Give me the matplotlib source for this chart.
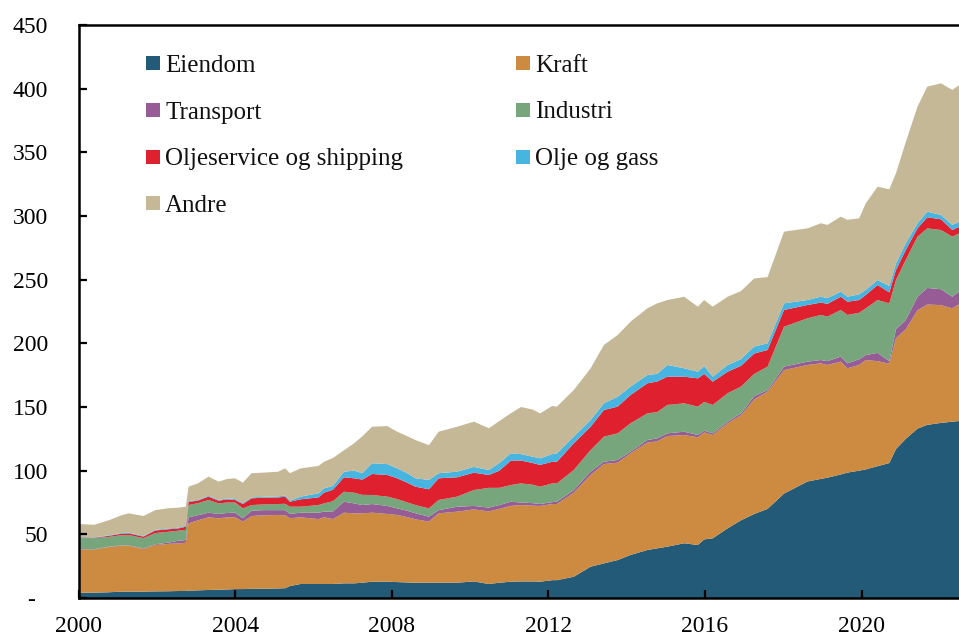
import numpy as np
import matplotlib
matplotlib.use("Agg")
import matplotlib.pyplot as plt
from matplotlib.patches import Rectangle
from matplotlib.ticker import FixedLocator, FuncFormatter

plt.rcParams['font.family'] = ['Liberation Serif', 'DejaVu Serif']

# ---- data: dates (decimal years) and cumulative stack tops ----
dates = [2000.0, 2000.4, 2000.77, 2001.1, 2001.28, 2001.66, 2001.96, 2002.3, 2002.56, 2002.74,
         2002.81, 2003.05, 2003.32, 2003.58, 2003.8, 2004.0, 2004.2, 2004.42, 2004.75, 2005.1,
         2005.28, 2005.4, 2005.67, 2006.13, 2006.27, 2006.5, 2006.78, 2007.04, 2007.25, 2007.5,
         2007.89, 2008.14, 2008.4, 2008.61, 2008.95, 2009.2, 2009.67, 2010.1, 2010.48, 2010.75,
         2011.04, 2011.3, 2011.6, 2011.79, 2012.1, 2012.22, 2012.65, 2013.08, 2013.42, 2013.77,
         2014.1, 2014.53, 2014.78, 2015.04, 2015.47, 2015.82, 2015.98, 2016.2, 2016.58, 2016.92,
         2017.26, 2017.6, 2018.02, 2018.62, 2018.96, 2019.13, 2019.47, 2019.64, 2019.94, 2020.11,
         2020.41, 2020.71, 2020.88, 2021.13, 2021.43, 2021.68, 2022.03, 2022.32, 2022.5]

top_eiendom = [4.2, 4.2, 4.5, 5.0, 5.0, 5.0, 5.2, 5.3, 5.5, 5.5,
               5.8, 6.0, 6.3, 6.5, 6.7, 7.0, 7.0, 7.2, 7.3, 7.5,
               7.7, 9.4, 11.0, 11.0, 11.0, 11.0, 11.5, 11.5, 12.0, 12.8,
               12.8, 12.5, 12.2, 12.0, 12.0, 12.0, 12.0, 13.0, 11.0, 12.0,
               12.8, 13.0, 13.0, 12.8, 14.0, 14.0, 16.7, 24.6, 27.2, 29.8,
               33.8, 37.7, 39.0, 40.3, 43.0, 41.6, 46.0, 46.9, 54.7, 61.0,
               66.0, 70.0, 82.0, 91.5, 93.5, 94.5, 97.0, 98.5, 100.0, 101.0,
               103.5, 106.0, 117.0, 125.0, 133.0, 136.0, 137.5, 138.5, 139.0]

top_kraft = [38.2, 38.0, 40.0, 41.0, 41.0, 38.5, 41.6, 42.5, 43.0, 43.4,
             58.6, 61.0, 63.4, 62.6, 63.4, 63.4, 60.0, 64.4, 65.0, 65.2,
             65.0, 62.6, 63.4, 62.0, 63.4, 62.0, 67.0, 66.5, 66.5, 67.0,
             66.0, 65.2, 63.5, 61.8, 60.0, 66.5, 67.8, 69.6, 68.0, 70.0,
             72.3, 73.0, 72.5, 72.3, 73.8, 73.8, 82.7, 96.6, 105.2, 106.3,
             113.6, 122.0, 123.0, 127.2, 128.0, 126.2, 130.0, 128.0, 137.2, 143.5,
             156.0, 162.0, 179.0, 183.0, 184.3, 183.0, 185.6, 180.4, 183.0, 186.9,
             186.0, 184.0, 204.0, 211.0, 226.0, 230.5, 230.0, 227.5, 231.0]

top_transport = [38.5, 38.3, 40.3, 41.3, 41.3, 39.0, 42.2, 43.5, 45.0, 45.5,
                 63.4, 65.0, 67.0, 66.0, 66.8, 67.0, 62.6, 68.6, 69.0, 69.0,
                 69.0, 66.0, 67.0, 67.0, 67.8, 68.0, 75.6, 74.3, 73.0, 73.8,
                 72.3, 70.4, 68.5, 66.5, 63.9, 69.0, 71.7, 72.3, 71.0, 73.0,
                 75.6, 75.0, 74.5, 73.8, 75.3, 75.6, 84.8, 99.2, 107.0, 108.4,
                 114.9, 124.0, 125.4, 129.3, 130.6, 128.0, 131.5, 129.3, 138.5, 145.0,
                 158.5, 163.3, 181.7, 185.6, 186.9, 186.0, 189.6, 184.3, 187.5, 190.8,
                 192.5, 186.0, 211.0, 218.3, 236.6, 243.5, 242.5, 236.6, 241.0]

top_industri = [47.6, 47.0, 48.0, 49.3, 49.5, 47.0, 51.0, 52.0, 52.9, 53.5,
                73.0, 74.5, 77.0, 74.3, 75.0, 75.0, 70.4, 73.0, 73.5, 73.8,
                74.0, 71.7, 71.7, 73.0, 74.3, 76.0, 83.5, 82.7, 81.0, 80.9,
                79.6, 77.7, 75.0, 73.0, 70.4, 77.0, 79.6, 84.8, 86.5, 86.5,
                88.7, 90.0, 89.0, 87.4, 90.0, 90.0, 100.5, 116.2, 126.7, 129.3,
                137.2, 145.0, 146.0, 151.6, 152.9, 150.3, 154.0, 151.6, 160.8, 166.0,
                176.0, 181.7, 213.0, 219.7, 222.3, 221.0, 226.2, 222.3, 224.0, 227.5,
                234.0, 231.4, 249.7, 265.5, 283.8, 290.3, 289.0, 283.8, 286.4]

top_oljeservice = [47.8, 47.3, 48.8, 50.5, 50.8, 48.2, 53.0, 54.0, 54.7, 56.0,
                   75.4, 76.5, 79.6, 76.4, 77.5, 77.0, 73.8, 78.3, 78.8, 79.0,
                   79.5, 75.6, 77.5, 79.0, 82.7, 85.0, 94.8, 94.0, 93.0, 97.4,
                   96.6, 94.0, 90.5, 87.4, 85.4, 94.0, 94.8, 98.4, 96.6, 100.0,
                   107.8, 108.0, 106.0, 104.5, 107.0, 107.0, 121.5, 134.5, 147.6, 150.3,
                   159.4, 168.6, 170.0, 173.8, 173.8, 172.5, 176.0, 169.9, 177.7, 182.3,
                   192.0, 194.8, 226.2, 230.1, 232.0, 231.0, 236.6, 232.7, 234.0, 238.0,
                   245.8, 240.0, 257.6, 273.3, 290.3, 299.0, 297.4, 289.0, 291.6]

top_olje_gass = [48.0, 47.6, 49.2, 51.0, 51.3, 48.7, 53.5, 54.6, 55.3, 56.7,
                 76.0, 77.0, 80.3, 77.0, 78.2, 77.8, 74.5, 79.0, 79.5, 79.8,
                 80.5, 76.5, 79.6, 82.2, 86.1, 88.0, 99.2, 100.0, 98.0, 105.8,
                 105.2, 101.8, 98.0, 94.0, 92.7, 98.0, 99.2, 103.0, 100.5, 106.0,
                 113.6, 113.0, 111.0, 109.7, 113.0, 113.6, 126.7, 139.8, 152.9, 158.0,
                 166.0, 175.1, 176.0, 183.0, 180.4, 177.7, 182.2, 173.8, 183.0, 187.6,
                 197.5, 200.0, 231.4, 234.0, 236.6, 235.5, 240.6, 236.6, 238.5, 242.0,
                 249.7, 245.0, 262.8, 278.6, 294.3, 303.4, 300.8, 293.0, 295.5]

top_andre = [58.1, 57.5, 61.0, 65.0, 66.5, 64.4, 69.0, 70.5, 71.0, 71.7,
             87.4, 90.0, 95.3, 91.4, 93.5, 94.0, 90.6, 98.0, 98.5, 99.2,
             101.8, 98.0, 101.8, 103.7, 107.0, 110.0, 116.0, 121.5, 127.0, 134.5,
             135.0, 130.6, 127.0, 124.0, 120.0, 130.6, 134.5, 138.5, 133.3, 139.0,
             145.0, 150.0, 148.0, 145.0, 150.8, 150.3, 163.3, 180.4, 198.7, 206.5,
             217.0, 227.5, 231.4, 234.0, 236.6, 228.8, 234.0, 228.8, 236.6, 241.0,
             251.0, 252.0, 287.7, 290.3, 294.3, 293.0, 299.5, 297.0, 298.2, 310.0,
             323.0, 321.0, 333.5, 358.0, 385.9, 401.6, 404.2, 399.0, 403.0]

labels = ["Eiendom", "Kraft", "Transport", "Industri",
          "Oljeservice og shipping", "Olje og gass", "Andre"]
colors = ["#225a78", "#cd8b42", "#955c96", "#78a67c",
          "#df202e", "#48b4e0", "#c4b896"]

x_ticks = [2000, 2004, 2008, 2012, 2016, 2020]
y_ticks = [0, 50, 100, 150, 200, 250, 300, 350, 400, 450]

# per-series values = differences between successive stack tops
levels = np.array([top_eiendom, top_kraft, top_transport, top_industri,
                   top_oljeservice, top_olje_gass, top_andre])
series = np.diff(np.vstack([np.zeros(len(dates)), levels]), axis=0)

W, H = 959, 639
fig = plt.figure(figsize=(W / 100, H / 100), dpi=100)
L, R, T, B = 78.5, 959, 25, 598
ax = fig.add_axes([L / W, 1 - B / H, (R - L) / W, (B - T) / H])

ax.stackplot(dates, *series, colors=colors, labels=labels, linewidth=0, antialiased=True)

ax.set_xlim(2000, 2022.49)
ax.set_ylim(0, 450)

ax.xaxis.set_major_locator(FixedLocator(x_ticks))
ax.yaxis.set_major_locator(FixedLocator(y_ticks))
ax.xaxis.set_major_formatter(FuncFormatter(lambda v, p: f"{int(round(v))}"))
ax.yaxis.set_major_formatter(FuncFormatter(lambda v, p: "-  " if abs(v) < 1e-9 else f"{int(round(v))}"))

for s in ["left", "bottom", "top"]:
    ax.spines[s].set_linewidth(1.8)
    ax.spines[s].set_color("black")
ax.spines["right"].set_visible(False)

ax.tick_params(axis="both", direction="in", length=5.5, width=1.6, labelsize=17, colors="black")
ax.tick_params(axis="y", pad=22)
ax.tick_params(axis="x", pad=13)

# legend (two columns, row-wise order)
def px2ax(px, py):
    return (px - L) / (R - L), (B - py) / (B - T)

rows_y = [63, 110, 157, 203]
col_patch_x = [146, 516]
col_text_x = [165, 535]
order = [(0, 0, 0), (1, 0, 1), (2, 1, 0), (3, 1, 1), (4, 2, 0), (5, 2, 1), (6, 3, 0)]
psize = 14
for idx, r, c in order:
    x0, y0 = px2ax(col_patch_x[c], rows_y[r] + psize / 2)
    w = psize / (R - L)
    h = psize / (B - T)
    ax.add_patch(Rectangle((x0, y0), w, h, transform=ax.transAxes,
                           facecolor=colors[idx], edgecolor="none", clip_on=False))
    tx, ty = px2ax(col_text_x[c], rows_y[r])
    ax.text(tx, ty, labels[idx], transform=ax.transAxes, fontsize=18,
            va="center_baseline", ha="left", color="#111111")

fig.savefig("out.png", dpi=100)
